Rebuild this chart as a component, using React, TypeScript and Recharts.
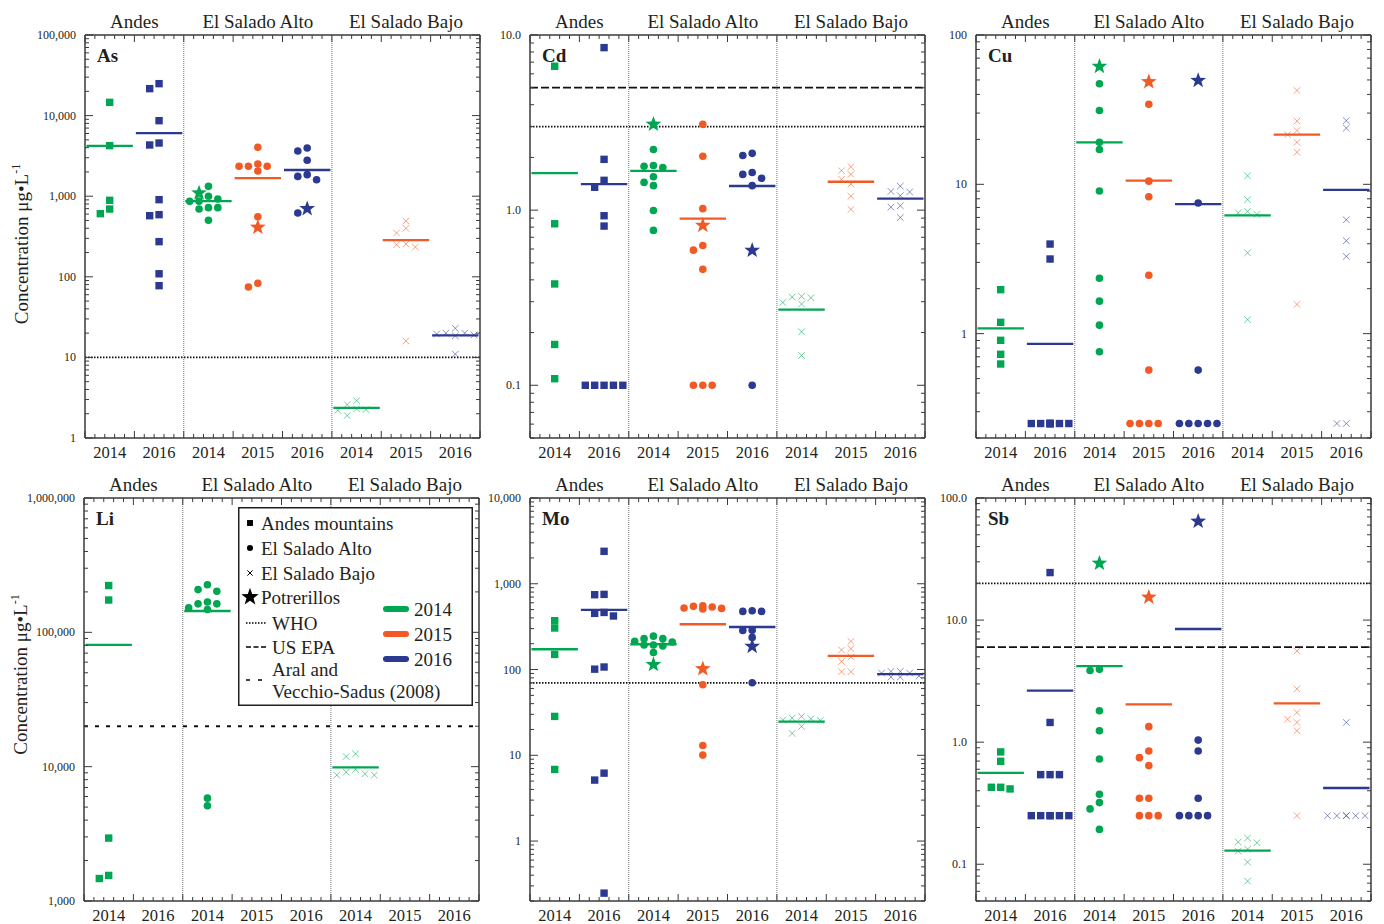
import React from 'react';
import { ScatterChart, Scatter, XAxis, YAxis, ReferenceLine, Legend } from 'recharts';

// categories along every x axis (year within region)
const CATEGORIES = ['2014', '2016', '2014', '2015', '2016', '2014', '2015', '2016'];
const REGIONS = ['Andes', 'El Salado Alto', 'El Salado Bajo'];
const REGION_OF = [0, 0, 1, 1, 1, 2, 2, 2];
// Potrerillos samples are plotted inside the El Salado Alto columns
const STAR_CATEGORIES = [2, 3, 4];

// concentrations (µg/L), one list per category
const AS_VALUES = [
  [14600, 4240, 889, 693, 607],
  [24900, 21600, 8650, 4570, 4320, 906, 590, 573, 273, 109, 77.6],
  [1325, 1000, 923, 868, 863, 721, 721, 693, 502],
  [4040, 2510, 2350, 2350, 2350, 2050, 557, 83, 74.7],
  [3960, 3640, 2790, 1850, 1760, 1600, 619],
  [2.9, 2.6, 2.3, 2.25, 2.2, 1.9],
  [492, 399, 349, 255, 250, 234, 16],
  [23, 20, 20, 19.5, 19, 18.5, 11],
];
const AS_STARS = [1096, 411, 700];

const CD_VALUES = [
  [6.63, 0.836, 0.379, 0.171, 0.109],
  [8.47, 1.95, 1.48, 1.35, 0.929, 0.811, 0.1, 0.1, 0.1, 0.1, 0.1],
  [2.22, 1.8, 1.78, 1.75, 1.55, 1.44, 1.38, 0.996, 0.766],
  [3.09, 2.03, 1.02, 0.628, 0.591, 0.459, 0.1, 0.1, 0.1],
  [2.11, 2.05, 1.64, 1.6, 1.52, 1.38, 0.1],
  [0.322, 0.319, 0.316, 0.297, 0.291, 0.202, 0.148],
  [1.77, 1.68, 1.6, 1.5, 1.41, 1.2, 1.01],
  [1.37, 1.28, 1.27, 1.21, 1.06, 1.04, 0.908],
];
const CD_STARS = [3.09, 0.818, 0.589];

const CU_VALUES = [
  [1.97, 1.19, 0.902, 0.727, 0.626],
  [3.98, 3.16, 0.25, 0.25, 0.25, 0.25, 0.25, 0.25, 0.25, 0.25, 0.25],
  [47.1, 31.2, 19.1, 17.1, 9.02, 2.35, 1.65, 1.14, 0.757],
  [34.4, 10.5, 8.26, 2.46, 0.57, 0.25, 0.25, 0.25, 0.25],
  [7.5, 0.57, 0.25, 0.25, 0.25, 0.25, 0.25],
  [11.4, 7.89, 6.59, 6.45, 6.29, 3.48, 1.24],
  [42.5, 26.5, 22.9, 21.5, 19.1, 16.4, 1.57],
  [26.7, 23.8, 5.79, 4.19, 3.29, 0.25, 0.25],
];
const CU_STARS = [61.6, 48.6, 49.6];

const LI_VALUES = [
  [223000, 174000, 2940, 1550, 1470],
  [],
  [226000, 208000, 202000, 168000, 163000, 163000, 152000, 148000, 5830, 5120],
  [],
  [],
  [12470, 11900, 9530, 9100, 8850, 8650, 8650],
  [],
  [],
];
const LI_STARS: number[] = [];

const MO_VALUES = [
  [371, 305, 150, 28.4, 6.84],
  [2390, 752, 745, 463, 452, 421, 107, 101, 6.19, 5.14, 0.247],
  [245, 229, 229, 213, 209, 193, 193, 188, 158],
  [555, 545, 535, 521, 516, 507, 66.5, 13, 10.05],
  [485, 476, 476, 288, 286, 237, 70.2],
  [28.4, 27.2, 26.7, 25.8, 25.5, 21.7, 18],
  [213, 175, 169, 140, 124, 94.2, 94.2],
  [95.1, 95.1, 90.9, 90.9, 83.9, 81.7, 81.7],
];
const MO_STARS = [114, 102, 186];

const SB_VALUES = [
  [0.832, 0.697, 0.427, 0.427, 0.414],
  [24.5, 1.45, 0.542, 0.542, 0.542, 0.25, 0.25, 0.25, 0.25, 0.25, 0.25],
  [3.95, 3.86, 1.81, 1.24, 0.728, 0.374, 0.32, 0.284, 0.193],
  [1.34, 0.847, 0.747, 0.643, 0.347, 0.347, 0.25, 0.25, 0.25],
  [1.04, 0.847, 0.347, 0.25, 0.25, 0.25, 0.25],
  [0.164, 0.152, 0.15, 0.133, 0.128, 0.104, 0.0727],
  [5.58, 2.73, 1.75, 1.54, 1.45, 1.24, 0.25],
  [1.45, 0.25, 0.25, 0.25, 0.25, 0.25, 0.25],
];
const SB_STARS = [29.2, 15.4, 64.4];

// guideline values (µg/L)
const WHO: Record<string, number> = { As: 10, Cd: 3, Mo: 70, Sb: 20 };
const US_EPA: Record<string, number> = { Cd: 5, Sb: 6 };
const ARAL_2008: Record<string, number> = { Li: 20000 };

const YEAR_COLOR: Record<string, string> = { '2014': '#00a651', '2015': '#f15a24', '2016': '#2b3990' };
const REGION_MARK = ['square', 'circle', 'cross'];

const PANELS = [
  { element: 'As', values: AS_VALUES, stars: AS_STARS, domain: [1, 100000], decimals: 0, left: 85, top: 35, title: 7.5 },
  { element: 'Cd', values: CD_VALUES, stars: CD_STARS, domain: [0.05, 10], decimals: 1, left: 530, top: 35 },
  { element: 'Cu', values: CU_VALUES, stars: CU_STARS, domain: [0.2, 100], decimals: 0, left: 976, top: 35 },
  { element: 'Li', values: LI_VALUES, stars: LI_STARS, domain: [1000, 1000000], decimals: 0, left: 84, top: 498, title: -25, legend: true },
  { element: 'Mo', values: MO_VALUES, stars: MO_STARS, domain: [0.2, 10000], decimals: 0, left: 530, top: 498 },
  { element: 'Sb', values: SB_VALUES, stars: SB_STARS, domain: [0.05, 100], decimals: 1, left: 976, top: 498 },
];

const FONT = '"Liberation Serif", "Times New Roman", serif';
const INK = '#231f20';
const AXIS = '#3a3a3a';
const PLOT_W = 395;
const PLOT_H = 403;
const MARGIN = { top: 34, right: 5, bottom: 0, left: 24 };
const Y_W = 60;
const X_H = 28;
const EDGE = 1; // size of the top / right frame axes
const CHART_W = MARGIN.left + Y_W + PLOT_W + EDGE + MARGIN.right;
const CHART_H = MARGIN.top + EDGE + PLOT_H + X_H;
const OFF_X = MARGIN.left + Y_W;
const OFF_Y = MARGIN.top + EDGE;

const JITTER = 0.19;
const SLOT_ORDER = [0, -1, 1, -2, 2];
const CLASH_PX = 7;

const isWhole = (v: number) => Math.abs(v - Math.round(v)) < 1e-6;
const isDecade = (v: number) => isWhole(Math.log10(v));
const fmt = (v: number, d: number) => (d ? v.toFixed(d) : v.toLocaleString('en-US'));

function logTicks([lo, hi]: number[]) {
  const out: number[] = [];
  for (let e = Math.floor(Math.log10(lo)); e <= Math.ceil(Math.log10(hi)); e++) {
    for (let m = 1; m <= 9; m++) {
      const v = Number((m * Math.pow(10, e)).toPrecision(6));
      if (v >= lo * 0.999 && v <= hi * 1.001) out.push(v);
    }
  }
  return out;
}

const GRID_TICKS = Array.from({ length: 41 }, (_, i) => i / 5);
const CENTER_TICKS = CATEGORIES.map((_, c) => c + 0.5);
const REGION_CENTERS = REGIONS.map((_, r) => {
  const cs = REGION_OF.map((g, c) => (g === r ? c : -1)).filter((c) => c >= 0);
  return (cs[0] + cs[cs.length - 1] + 1) / 2;
});

// simple beeswarm: place points column by column so markers do not collide
function swarm(values: number[], pxPerDecade: number) {
  const order = values.map((v, i) => ({ v, i })).sort((a, b) => b.v - a.v);
  const placed: { k: number; lv: number }[] = [];
  const slots = new Array(values.length).fill(0);
  for (const p of order) {
    const lv = Math.log10(p.v);
    let best = 0;
    let bestGap = -1;
    for (const k of SLOT_ORDER) {
      const gap = Math.min(Infinity, ...placed.filter((q) => q.k === k).map((q) => Math.abs(q.lv - lv) * pxPerDecade));
      if (gap >= CLASH_PX) {
        best = k;
        break;
      }
      if (gap > bestGap) {
        best = k;
        bestGap = gap;
      }
    }
    placed.push({ k: best, lv });
    slots[p.i] = best;
  }
  return slots;
}

function starPoints(cx: number, cy: number, ro: number, ri: number) {
  const pts: string[] = [];
  for (let i = 0; i < 10; i++) {
    const r = i % 2 ? ri : ro;
    const a = -Math.PI / 2 + (i * Math.PI) / 5;
    pts.push(`${cx + r * Math.cos(a)},${cy + r * Math.sin(a)}`);
  }
  return pts.join(' ');
}

function Marker({ kind, color, cx, cy, scale = 1 }: any) {
  if (cx == null || cy == null) return null;
  if (kind === 'square') {
    const h = 3.7 * scale;
    return <rect x={cx - h} y={cy - h} width={2 * h} height={2 * h} fill={color} />;
  }
  if (kind === 'circle') return <circle cx={cx} cy={cy} r={3.8 * scale} fill={color} />;
  if (kind === 'cross') {
    const h = 3.3 * scale;
    return (
      <path
        d={`M${cx - h},${cy - h}L${cx + h},${cy + h}M${cx - h},${cy + h}L${cx + h},${cy - h}`}
        stroke={color}
        strokeOpacity={color === '#000' ? 1 : 0.55}
        strokeWidth={1}
        fill="none"
      />
    );
  }
  return <polygon points={starPoints(cx, cy, 8.3 * scale, 3.4 * scale)} fill={color} />;
}

function makeYTick(side: 'left' | 'right', decimals: number) {
  return (props: any) => {
    const { x, y, payload } = props;
    const v = payload.value;
    const major = isDecade(v);
    const dir = side === 'left' ? 1 : -1;
    return (
      <g>
        <line x1={x} x2={x + dir * (major ? 8 : 4)} y1={y} y2={y} stroke={AXIS} strokeWidth={1} />
        {side === 'left' && major && (
          <text x={x - 9} y={y + 4} textAnchor="end" fontSize={12} fontFamily={FONT} fill={INK}>
            {fmt(v, decimals)}
          </text>
        )}
      </g>
    );
  };
}

function makeXTick(side: 'top' | 'bottom') {
  return (props: any) => {
    const { x, y, payload } = props;
    const v = payload.value;
    const onGrid = isWhole(v * 5);
    const dir = side === 'bottom' ? -1 : 1;
    const region = REGION_CENTERS.findIndex((c) => Math.abs(c - v) < 1e-6);
    return (
      <g>
        {onGrid && <line x1={x} x2={x} y1={y} y2={y + dir * (isWhole(v) ? 7 : 4)} stroke={AXIS} strokeWidth={1} />}
        {side === 'bottom' && !onGrid && (
          <text x={x} y={y + 19.5} textAnchor="middle" fontSize={16.5} fontFamily={FONT} fill={INK}>
            {CATEGORIES[Math.floor(v)]}
          </text>
        )}
        {side === 'top' && region >= 0 && (
          <text x={x} y={y - 7.5} textAnchor="middle" fontSize={19} fontFamily={FONT} fill={INK}>
            {REGIONS[region]}
          </text>
        )}
      </g>
    );
  };
}

function ElementName({ text }: { text: string }) {
  return (
    <text x={OFF_X + 12} y={OFF_Y + 27} fontSize={19} fontWeight="bold" fontFamily={FONT} fill={INK}>
      {text}
    </text>
  );
}

function YTitle({ shift }: { shift: number }) {
  const cx = OFF_X - 57;
  const cy = OFF_Y + PLOT_H / 2 + shift;
  return (
    <text
      x={cx}
      y={cy}
      transform={`rotate(-90 ${cx} ${cy})`}
      textAnchor="middle"
      fontSize={19}
      fontFamily={FONT}
      fill={INK}
    >
      Concentration μg•L
      <tspan dy={-8} fontSize={12}>
        -1
      </tspan>
    </text>
  );
}

const LEGEND_MARKS = ['Andes mountains', 'El Salado Alto', 'El Salado Bajo', 'Potrerillos'];
const LEGEND_LINES = [
  { name: 'WHO', dash: '1.5 1.5' },
  { name: 'US EPA', dash: '5 2.5' },
  { name: 'Aral and', dash: '4 8' },
];
const LEGEND_YEARS = ['2014', '2015', '2016'];

function LegendBox() {
  const markY = [16, 41, 66, 90];
  const lineY = [116, 140, 173];
  const yearY = [102, 127, 152];
  const txt = { fontSize: 19, fontFamily: FONT, fill: INK };
  return (
    <svg width={236} height={200} style={{ display: 'block', overflow: 'visible' }}>
      <rect x={0.75} y={0.75} width={233.5} height={197.5} fill="#fff" stroke={INK} strokeWidth={1.5} />
      {LEGEND_MARKS.map((name, i) => (
        <g key={name}>
          <Marker kind={i < 3 ? REGION_MARK[i] : 'star'} color="#000" cx={12} cy={markY[i]} scale={i < 3 ? 0.8 : 1.1} />
          <text x={23} y={markY[i] + 6.5} {...txt}>
            {name}
          </text>
        </g>
      ))}
      {LEGEND_LINES.map((l, i) => (
        <g key={l.name}>
          <line x1={8} x2={28} y1={lineY[i]} y2={lineY[i]} stroke="#000" strokeWidth={1.6} strokeDasharray={l.dash} />
          <text x={34} y={(i < 2 ? lineY[i] : 162) + 6.5} {...txt}>
            {l.name}
          </text>
        </g>
      ))}
      <text x={34} y={191} {...txt}>
        Vecchio-Sadus (2008)
      </text>
      {LEGEND_YEARS.map((yr, i) => (
        <g key={yr}>
          <line x1={148} x2={168} y1={yearY[i]} y2={yearY[i]} stroke={YEAR_COLOR[yr]} strokeWidth={6} strokeLinecap="round" />
          <text x={176} y={yearY[i] + 6.5} {...txt}>
            {yr}
          </text>
        </g>
      ))}
    </svg>
  );
}

function Panel({ panel }: { panel: any }) {
  const [lo, hi] = panel.domain;
  const pxPerDecade = PLOT_H / (Math.log10(hi) - Math.log10(lo));
  const yTicks = logTicks(panel.domain);

  const groups = CATEGORIES.map((year, c) => {
    const vals: number[] = panel.values[c];
    const si = STAR_CATEGORIES.indexOf(c);
    const star = si >= 0 ? panel.stars[si] : undefined;
    const all = star != null ? [...vals, star] : vals;
    const slots = swarm(all, pxPerDecade);
    const pts = all.map((v, i) => ({ x: c + 0.5 + slots[i] * JITTER, y: v, star: star != null && i === all.length - 1 }));
    return {
      c,
      color: YEAR_COLOR[year],
      kind: REGION_MARK[REGION_OF[c]],
      points: pts.filter((p) => !p.star),
      stars: pts.filter((p) => p.star),
      mean: all.length ? all.reduce((a, b) => a + b, 0) / all.length : null,
    };
  });

  const guides = [
    { v: WHO[panel.element], dash: '1.5 1.5' },
    { v: US_EPA[panel.element], dash: '8 3' },
    { v: ARAL_2008[panel.element], dash: '4 7' },
  ].filter((g) => g.v != null);

  const chartLeft = panel.left - OFF_X;
  const chartTop = panel.top - OFF_Y;

  return (
    <div style={{ position: 'absolute', left: chartLeft, top: chartTop }}>
      <ScatterChart width={CHART_W} height={CHART_H} margin={MARGIN}>
        <XAxis
          xAxisId="bottom"
          dataKey="x"
          type="number"
          domain={[0, 8]}
          allowDataOverflow
          ticks={[...GRID_TICKS, ...CENTER_TICKS]}
          interval={0}
          height={X_H}
          tickSize={0}
          tickMargin={0}
          tickLine={false}
          tick={makeXTick('bottom')}
          axisLine={{ stroke: AXIS, strokeWidth: 1.5 }}
        />
        <XAxis
          xAxisId="top"
          orientation="top"
          dataKey="x"
          type="number"
          domain={[0, 8]}
          allowDataOverflow
          ticks={[...GRID_TICKS, ...REGION_CENTERS.filter((c) => !isWhole(c * 5))]}
          interval={0}
          height={EDGE}
          tickSize={0}
          tickMargin={0}
          tickLine={false}
          tick={makeXTick('top')}
          axisLine={{ stroke: AXIS, strokeWidth: 1.5 }}
          label={<ElementName text={panel.element} />}
        />
        <YAxis
          yAxisId="left"
          dataKey="y"
          type="number"
          scale="log"
          domain={panel.domain}
          allowDataOverflow
          ticks={yTicks}
          interval={0}
          width={Y_W}
          tickSize={0}
          tickMargin={0}
          tickLine={false}
          tick={makeYTick('left', panel.decimals)}
          axisLine={{ stroke: AXIS, strokeWidth: 1.5 }}
          label={panel.title != null ? <YTitle shift={panel.title} /> : undefined}
        />
        <YAxis
          yAxisId="right"
          orientation="right"
          dataKey="y"
          type="number"
          scale="log"
          domain={panel.domain}
          allowDataOverflow
          ticks={yTicks}
          interval={0}
          width={EDGE}
          tickSize={0}
          tickMargin={0}
          tickLine={false}
          tick={makeYTick('right', panel.decimals)}
          axisLine={{ stroke: AXIS, strokeWidth: 1.5 }}
        />
        {[2, 5].map((x) => (
          <ReferenceLine key={`div${x}`} xAxisId="bottom" yAxisId="left" x={x} stroke="#777" strokeWidth={1} strokeDasharray="1 1" />
        ))}
        {guides.map((g, i) => (
          <ReferenceLine key={`g${i}`} xAxisId="bottom" yAxisId="left" y={g.v} stroke="#111" strokeWidth={1.8} strokeDasharray={g.dash} />
        ))}
        {groups
          .filter((g) => g.mean != null)
          .map((g) => (
            <ReferenceLine
              key={`m${g.c}`}
              xAxisId="bottom"
              yAxisId="left"
              segment={[
                { x: g.c + 0.03, y: g.mean },
                { x: g.c + 0.97, y: g.mean },
              ]}
              stroke={g.color}
              strokeWidth={2.3}
            />
          ))}
        {groups
          .filter((g) => g.points.length)
          .map((g) => (
            <Scatter
              key={`p${g.c}`}
              xAxisId="bottom"
              yAxisId="left"
              data={g.points}
              isAnimationActive={false}
              shape={(p: any) => <Marker kind={g.kind} color={g.color} cx={p.cx} cy={p.cy} />}
            />
          ))}
        {groups
          .filter((g) => g.stars.length)
          .map((g) => (
            <Scatter
              key={`s${g.c}`}
              xAxisId="bottom"
              yAxisId="left"
              data={g.stars}
              isAnimationActive={false}
              shape={(p: any) => <Marker kind="star" color={g.color} cx={p.cx} cy={p.cy} />}
            />
          ))}
        {panel.legend && (
          <Legend
            layout="horizontal"
            verticalAlign="middle"
            align="center"
            content={() => <LegendBox />}
            wrapperStyle={{ left: 238 - chartLeft, top: 507 - chartTop, width: 236, height: 200 }}
          />
        )}
      </ScatterChart>
    </div>
  );
}

export default function App() {
  return (
    <div style={{ position: 'absolute', left: 0, top: 0, width: 1384, height: 924, background: '#fff', overflow: 'hidden' }}>
      {PANELS.map((p) => (
        <Panel key={p.element} panel={p} />
      ))}
    </div>
  );
}
